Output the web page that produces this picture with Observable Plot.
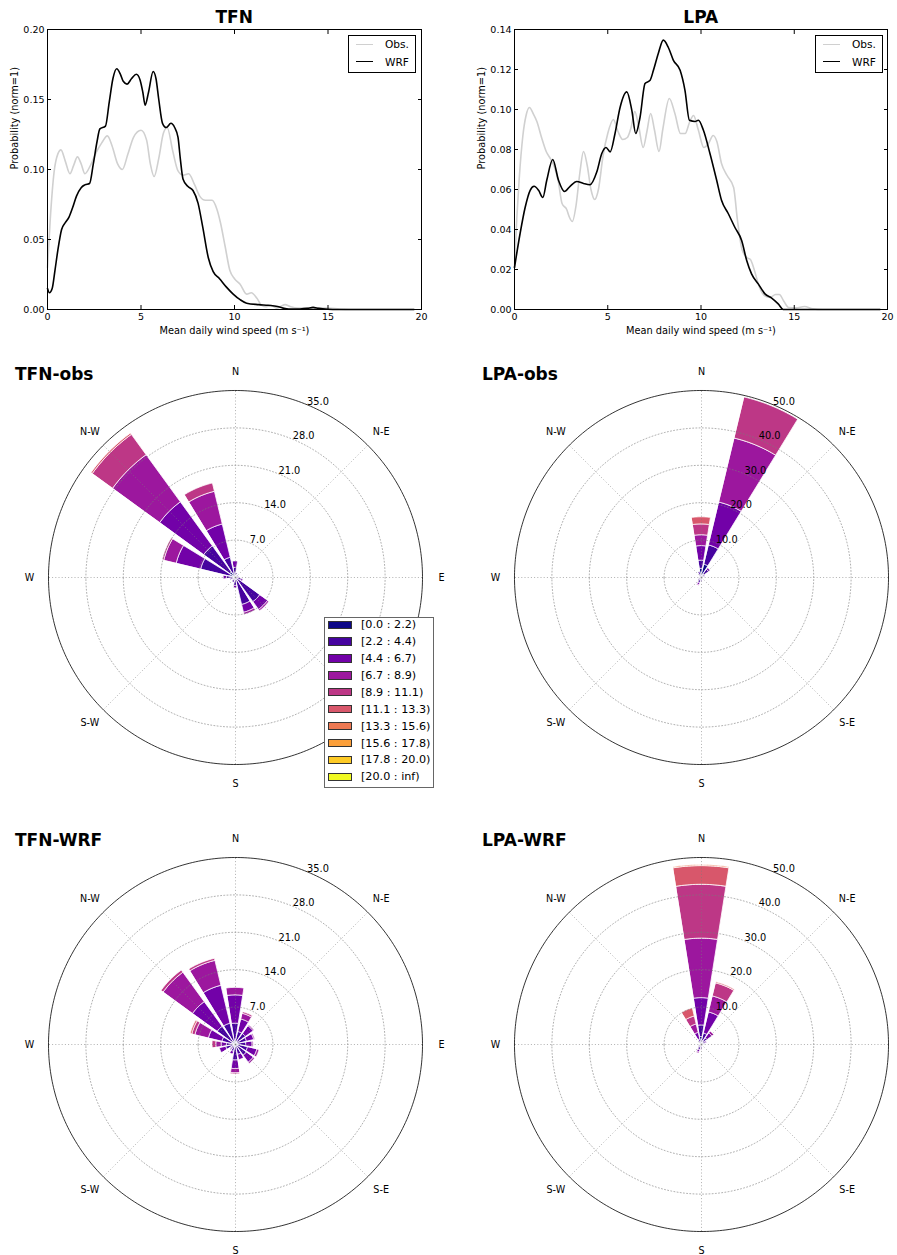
<!DOCTYPE html>
<html>
<head>
<meta charset="utf-8">
<script src="https://cdn.jsdelivr.net/npm/d3@7"></script>
<script src="https://cdn.jsdelivr.net/npm/@observablehq/plot@0.6"></script>
<style>
  body { margin: 0; background: #fff; }
  #root { position: relative; width: 897px; height: 1255px; overflow: hidden; font-family: "DejaVu Sans", sans-serif; color: #000; }
  #root svg { position: absolute; overflow: visible; }
</style>
</head>
<body>
<div id="root"></div>
<script>
// ---------------- DATA ----------------
// Kernel-density curves: [wind speed (m/s), probability]
const tfnObs = [[0,0.030],[0.15,0.065],[0.35,0.098],[0.55,0.111],[0.72,0.114],[0.95,0.106],[1.2,0.097],[1.4,0.103],[1.6,0.109],[1.8,0.104],[2.0,0.097],[2.3,0.103],[2.6,0.112],[2.9,0.119],[3.2,0.124],[3.45,0.117],[3.75,0.104],[4.0,0.100],[4.3,0.111],[4.6,0.123],[5.0,0.128],[5.3,0.121],[5.5,0.104],[5.7,0.095],[5.95,0.108],[6.2,0.126],[6.4,0.130],[6.7,0.113],[6.98,0.099],[7.25,0.096],[7.55,0.097],[7.87,0.089],[8.14,0.081],[8.45,0.078],[8.8,0.078],[9.05,0.072],[9.25,0.062],[9.5,0.045],[9.75,0.028],[10.0,0.022],[10.3,0.018],[10.65,0.011],[10.9,0.012],[11.2,0.008],[11.45,0.003],[11.7,0.002],[11.95,0.003],[12.25,0.001],[12.7,0.0035],[13.0,0.002],[13.4,0.001],[14.2,0.001],[15.0,0.001],[15.6,0.0003],[16.2,0],[19.6,0]];
const tfnWrf = [[0,0.015],[0.1,0.012],[0.25,0.015],[0.4,0.028],[0.55,0.042],[0.75,0.057],[0.95,0.062],[1.15,0.066],[1.35,0.073],[1.55,0.081],[1.8,0.087],[2.0,0.089],[2.25,0.090],[2.45,0.104],[2.65,0.120],[2.8,0.129],[3.1,0.131],[3.3,0.148],[3.5,0.165],[3.7,0.172],[3.9,0.168],[4.05,0.163],[4.25,0.161],[4.5,0.165],[4.75,0.168],[4.95,0.164],[5.1,0.155],[5.22,0.146],[5.4,0.155],[5.65,0.170],[5.8,0.165],[5.95,0.150],[6.15,0.133],[6.35,0.130],[6.6,0.133],[6.8,0.130],[6.98,0.123],[7.1,0.108],[7.25,0.093],[7.5,0.088],[7.78,0.085],[8.05,0.076],[8.3,0.059],[8.6,0.037],[8.86,0.027],[9.2,0.022],[9.57,0.016],[9.93,0.011],[10.3,0.007],[10.65,0.0045],[11.3,0.0035],[11.8,0.003],[12.3,0.0022],[12.6,0.001],[12.9,0.0003],[13.5,0.0004],[13.9,0.0008],[14.2,0.0015],[14.5,0.0008],[15.0,0.0002],[15.5,0],[19.6,0]];
const lpaObs = [[0,0.021],[0.12,0.045],[0.25,0.065],[0.45,0.087],[0.62,0.097],[0.8,0.101],[1.0,0.098],[1.2,0.094],[1.45,0.086],[1.7,0.079],[1.95,0.075],[2.15,0.071],[2.35,0.064],[2.55,0.053],[2.8,0.050],[2.95,0.046],[3.1,0.044],[3.3,0.052],[3.5,0.068],[3.7,0.079],[3.9,0.072],[4.1,0.060],[4.3,0.055],[4.5,0.060],[4.75,0.077],[5.0,0.088],[5.3,0.095],[5.55,0.089],[5.8,0.085],[6.05,0.086],[6.25,0.091],[6.45,0.099],[6.65,0.092],[6.9,0.081],[7.1,0.089],[7.3,0.098],[7.5,0.090],[7.75,0.079],[7.95,0.090],[8.3,0.1055],[8.6,0.098],[8.9,0.088],[9.15,0.088],[9.4,0.094],[9.6,0.097],[9.85,0.090],[10.15,0.081],[10.4,0.083],[10.65,0.087],[10.85,0.084],[11.1,0.073],[11.4,0.067],[11.75,0.061],[11.95,0.045],[12.2,0.030],[12.45,0.026],[12.65,0.025],[12.85,0.020],[13.1,0.012],[13.4,0.007],[13.7,0.006],[14.0,0.0075],[14.2,0.0075],[14.45,0.004],[14.7,0.001],[15.1,0.0008],[15.55,0.0015],[16.0,0.0003],[16.5,0],[19.6,0]];
const lpaWrf = [[0,0.021],[0.3,0.038],[0.57,0.051],[0.84,0.0596],[1.05,0.0616],[1.29,0.0596],[1.52,0.056],[1.73,0.0646],[2.05,0.075],[2.36,0.0646],[2.68,0.059],[2.98,0.0616],[3.34,0.064],[3.7,0.063],[4.05,0.0624],[4.41,0.0687],[4.68,0.078],[4.91,0.081],[5.13,0.0788],[5.39,0.088],[5.66,0.101],[6.02,0.1088],[6.29,0.0996],[6.5,0.088],[6.73,0.096],[7.0,0.113],[7.27,0.1146],[7.45,0.1196],[7.71,0.128],[7.98,0.1347],[8.25,0.131],[8.52,0.1246],[8.88,0.1196],[9.14,0.1096],[9.38,0.0946],[9.68,0.094],[9.86,0.0946],[10.13,0.0896],[10.48,0.078],[10.84,0.0646],[11.1,0.0546],[11.46,0.048],[11.82,0.041],[12.18,0.0345],[12.45,0.0245],[12.71,0.0178],[13.07,0.0128],[13.43,0.0078],[13.79,0.0057],[14.14,0.0028],[14.41,0.0],[19.6,0]];

const speedTicks = [0, 5, 10, 15, 20];
const tfnProbTicks = [0, 0.05, 0.10, 0.15, 0.20];
const lpaProbTicks = [0, 0.02, 0.04, 0.06, 0.08, 0.10, 0.12, 0.14];

// Wind roses
const directions = ["N","NNE","NE","ENE","E","ESE","SE","SSE","S","SSW","SW","WSW","W","WNW","NW","NNW"];
const dirAngles = [0,22.5,45,67.5,90,112.5,135,157.5,180,202.5,225,247.5,270,292.5,315,337.5];
const compassLabels = ["N","N-E","E","S-E","S","S-W","W","N-W"];
const compassAngles = [0,45,90,135,180,225,270,315];
const speedBins = ["[0.0 : 2.2)","[2.2 : 4.4)","[4.4 : 6.7)","[6.7 : 8.9)","[8.9 : 11.1)","[11.1 : 13.3)","[13.3 : 15.6)","[15.6 : 17.8)","[17.8 : 20.0)","[20.0 : inf)"];
const tfnRings = [7, 14, 21, 28, 35];
const lpaRings = [10, 20, 30, 40, 50];

// frequency (%) per direction (rows, N..NNW) and speed bin (columns)
const tfnObsFreq = [
  [0.3,1.5,1.2,0,0,0,0,0,0,0],
  [0.3,0.5,0,0,0,0,0,0,0,0],
  [0.2,0.3,0,0,0,0,0,0,0,0],
  [0.2,0.4,0,0,0,0,0,0,0,0],
  [0.2,0.5,0,0,0,0,0,0,0,0],
  [0.3,0.9,0.3,0,0,0,0,0,0,0],
  [0.5,5.2,1.8,0.3,0,0,0,0,0,0],
  [0.5,4.8,1.5,0.4,0,0,0,0,0,0],
  [0.4,1.2,0.4,0,0,0,0,0,0,0],
  [0.3,0.7,0,0,0,0,0,0,0,0],
  [0.2,0.4,0,0,0,0,0,0,0,0],
  [0.3,0.7,0,0,0,0,0,0,0,0],
  [0.4,1.2,0.6,0,0,0,0,0,0,0],
  [1.0,5.6,4.7,2.4,0.3,0,0,0,0,0],
  [1.2,6.0,10.2,10.9,4.7,0.3,0,0,0,0],
  [0.8,3.0,6.4,6.3,1.6,0,0,0,0,0]
];
const tfnWrfFreq = [
  [0.6,3.3,5.3,1.4,0,0,0,0,0,0],
  [0.5,1.9,2.4,1.1,0.3,0,0,0,0,0],
  [0.4,2.0,1.8,0.2,0,0,0,0,0,0],
  [0.4,1.8,1.4,0.2,0,0,0,0,0,0],
  [0.4,1.6,1.2,0.2,0,0,0,0,0,0],
  [0.4,2.0,1.8,0.4,0,0,0,0,0,0],
  [0.4,2.2,1.6,0.3,0,0,0,0,0,0],
  [0.4,1.6,1.0,0,0,0,0,0,0,0],
  [0.5,2.5,1.6,0.8,0.2,0,0,0,0,0],
  [0.4,1.0,0.5,0,0,0,0,0,0,0],
  [0.3,0.7,0.2,0,0,0,0,0,0,0],
  [0.4,1.4,1.2,0,0,0,0,0,0,0],
  [0.4,1.2,1.0,1.0,0.7,0,0,0,0,0],
  [0.5,2.0,2.6,2.6,0.6,0.3,0,0,0,0],
  [0.6,3.5,5.7,6.8,0.5,0,0,0,0,0],
  [0.6,3.4,7.3,4.8,0.4,0,0,0,0,0]
];
const lpaObsFreq = [
  [2.3,2.2,3.9,2.9,2.9,1.9,0,0,0,0],
  [3.5,5.3,11.8,17.6,11.3,0,0,0,0,0],
  [1.0,1.5,0.5,0,0,0,0,0,0,0],
  [0.4,0.6,0,0,0,0,0,0,0,0],
  [0.3,0.2,0,0,0,0,0,0,0,0],
  [0.2,0.2,0,0,0,0,0,0,0,0],
  [0.2,0.2,0,0,0,0,0,0,0,0],
  [0.3,0.3,0,0,0,0,0,0,0,0],
  [0.5,0.7,0,0,0,0,0,0,0,0],
  [0.6,1.0,0.5,0.2,0,0,0,0,0,0],
  [0.4,0.6,0,0,0,0,0,0,0,0],
  [0.2,0.3,0,0,0,0,0,0,0,0],
  [0.2,0.2,0,0,0,0,0,0,0,0],
  [0.2,0.2,0,0,0,0,0,0,0,0],
  [0.3,0.3,0,0,0,0,0,0,0,0],
  [0.5,1.0,0,0,0,0,0,0,0,0]
];
const lpaWrfFreq = [
  [2.0,3.1,7.3,15.9,14.4,5.0,0.3,0,0,0],
  [1.0,2.0,5.8,4.4,3.6,0.3,0,0,0,0],
  [0.6,1.4,1.6,0.6,0,0,0,0,0,0],
  [0.4,0.8,0.3,0,0,0,0,0,0,0],
  [0.3,0.3,0,0,0,0,0,0,0,0],
  [0.2,0.2,0,0,0,0,0,0,0,0],
  [0.2,0.2,0,0,0,0,0,0,0,0],
  [0.3,0.3,0,0,0,0,0,0,0,0],
  [0.5,0.8,0.2,0,0,0,0,0,0,0],
  [0.6,1.0,0.6,0.3,0,0,0,0,0,0],
  [0.4,0.5,0,0,0,0,0,0,0,0],
  [0.2,0.3,0,0,0,0,0,0,0,0],
  [0.2,0.2,0,0,0,0,0,0,0,0],
  [0.2,0.3,0,0,0,0,0,0,0,0],
  [0.4,0.5,0,0,0,0,0,0,0,0],
  [0.6,0.8,1.8,2.3,2.2,2.2,0,0,0,0]
];

// ---------------- STYLE ----------------
const binColors = d3.quantize(d3.interpolatePlasma, 10);
const FONT = "DejaVu Sans";
const root = document.getElementById("root");

function put(node, left, top) {
  node.style.left = left + "px";
  node.style.top = top + "px";
  root.appendChild(node);
  return node;
}
function textDiv(text, x, cy, size, bold, center) {
  const d = document.createElement("div");
  d.textContent = text;
  d.style.cssText = `position:absolute;white-space:nowrap;font-family:'${FONT}';font-size:${size}px;line-height:${size}px;font-weight:${bold ? "bold" : "normal"};`;
  d.style.top = (cy - size * 0.48) + "px";
  d.style.left = x + "px";
  if (center) d.style.transform = "translateX(-50%)";
  root.appendChild(d);
  return d;
}

// ---------------- DENSITY PLOTS ----------------
function densityPlot(obs, wrf, probTicks, width, marginLeft, marginRight) {
  const toRows = (a) => a.map(([s, p]) => ({s, p}));
  return Plot.plot({
    width, height: 345,
    marginLeft, marginRight, marginTop: 29, marginBottom: 36,
    style: {fontFamily: FONT, fontSize: "9.5px", background: "transparent", color: "black", overflow: "visible"},
    x: {domain: [0, 20]},
    y: {domain: [0, probTicks[probTicks.length - 1]]},
    marks: [
      Plot.line(toRows(obs), {x: "s", y: "p", stroke: "#d0d0d0", strokeWidth: 1.6, curve: "monotone-x"}),
      Plot.line(toRows(wrf), {x: "s", y: "p", stroke: "black", strokeWidth: 1.6, curve: "monotone-x"}),
      Plot.frame({stroke: "black", strokeWidth: 1}),
      Plot.axisX({ticks: speedTicks, tickSize: -4, tickPadding: 7.5, tickFormat: (d) => String(d), label: null}),
      Plot.axisX({anchor: "top", ticks: speedTicks, tickSize: -4, tickFormat: () => "", label: null}),
      Plot.axisY({ticks: probTicks, tickSize: -4, tickPadding: 7, tickFormat: d3.format(".2f"), label: null}),
      Plot.axisY({anchor: "right", ticks: probTicks, tickSize: -4, tickFormat: () => "", label: null}),
      Plot.text(["Mean daily wind speed (m s\u207B\u00B9)"], {frameAnchor: "bottom", dy: 24, text: (d) => d, fontSize: 9.8}),
      Plot.text(["Probability (norm=1)"], {frameAnchor: "left", dx: -33, rotate: -90, text: (d) => d, fontSize: 9.8})
    ]
  });
}

put(densityPlot(tfnObs, tfnWrf, tfnProbTicks, 448, 47, 27), 0, 0);
put(densityPlot(lpaObs, lpaWrf, lpaProbTicks, 449, 66, 10), 448, 0);

// ---------------- WIND ROSES ----------------
const K = 0.01;                       // degrees of colatitude per percent
const lonOf = (a) => 180 - a;         // compass angle -> longitude (clockwise from N)
const latOf = (v) => 90 - v * K;      // frequency -> latitude
const OUTER = 187, HALF_FRAME = 210, LABEL_R = 206;

function rose(freq, rings) {
  const rmax = rings[rings.length - 1];
  const half = 22.5 * 0.8 / 2;
  const pts = [];
  freq.forEach((row, d) => {
    let r0 = 0;
    row.forEach((v, b) => {
      if (!(v > 0)) return;
      const r1 = r0 + v;
      for (let j = 0; j <= 18; j++) {
        const a = dirAngles[d] - half + j * (2 * half / 18);
        pts.push({id: directions[d] + "-" + b, bin: speedBins[b], lon: lonOf(a), lat0: latOf(r0), lat1: latOf(r1)});
      }
      r0 = r1;
    });
  });
  const circle = (r) => d3.geoCircle().center([0, 90]).radius(r * K).precision(1)();
  const grid = {stroke: "#7a7a7a", strokeWidth: 0.6, strokeDasharray: "1,2.2"};
  return Plot.plot({
    width: 2 * HALF_FRAME, height: 2 * HALF_FRAME, margin: 0,
    style: {fontFamily: FONT, fontSize: "9.5px", background: "transparent", color: "black", overflow: "visible"},
    projection: {
      type: "azimuthal-equidistant",
      rotate: [0, -90],
      domain: d3.geoCircle().center([0, 90]).radius(rmax * K * HALF_FRAME / OUTER)()
    },
    color: {domain: speedBins, range: binColors},
    marks: [
      Plot.area(pts, {x1: "lon", y1: "lat0", x2: "lon", y2: "lat1", z: "id", fill: "bin", stroke: "white", strokeWidth: 0.8}),
      Plot.geo(rings.slice(0, -1), {geometry: circle, fill: "none", ...grid}),
      Plot.link(compassAngles, {x1: (a) => lonOf(a), y1: 90, x2: (a) => lonOf(a), y2: latOf(rmax), ...grid}),
      Plot.geo([rmax], {geometry: circle, fill: "none", stroke: "black", strokeWidth: 0.8}),
      Plot.text(compassLabels, {x: (d, i) => lonOf(compassAngles[i]), y: latOf(rmax * LABEL_R / OUTER), text: (d) => d, fontSize: 9.6}),
      Plot.text(rings, {x: lonOf(22.5), y: (r) => latOf(r), text: (r) => r.toFixed(1), textAnchor: "start", lineAnchor: "bottom", fontSize: 9.8})
    ]
  });
}

put(rose(tfnObsFreq, tfnRings), 235 - HALF_FRAME, 577 - HALF_FRAME);
put(rose(lpaObsFreq, lpaRings), 701 - HALF_FRAME, 577 - HALF_FRAME);
put(rose(tfnWrfFreq, tfnRings), 235 - HALF_FRAME, 1044 - HALF_FRAME);
put(rose(lpaWrfFreq, lpaRings), 701 - HALF_FRAME, 1044 - HALF_FRAME);

// ---------------- TITLES ----------------
textDiv("TFN", 234.2, 16.7, 17, true, true);
textDiv("LPA", 700.8, 16.7, 17, true, true);
textDiv("TFN-obs", 15, 374, 17, true, false);
textDiv("LPA-obs", 482, 374, 17, true, false);
textDiv("TFN-WRF", 15, 840, 17, true, false);
textDiv("LPA-WRF", 482, 840, 17, true, false);

// ---------------- LEGENDS ----------------
function lineLegend(left, top) {
  const box = document.createElement("div");
  box.style.cssText = "position:absolute;width:68px;height:38px;border:1px solid #000;box-sizing:border-box;background:#fff;";
  [["Obs.", "#d0d0d0", 9.5], ["WRF", "#000", 27]].forEach(([t, c, cy]) => {
    const ln = document.createElement("div");
    ln.style.cssText = `position:absolute;left:7px;top:${cy - 1.75}px;width:17px;height:0;border-top:1.6px solid ${c};`;
    box.appendChild(ln);
    const tx = document.createElement("div");
    tx.textContent = t;
    tx.style.cssText = `position:absolute;left:36px;top:${cy - 1 - 10.6 * 0.48}px;font-family:'${FONT}';font-size:10.6px;line-height:10.6px;white-space:nowrap;`;
    box.appendChild(tx);
  });
  put(box, left, top);
}
lineLegend(348, 35);
lineLegend(815, 35);

(function binLegend() {
  const box = document.createElement("div");
  box.style.cssText = "position:absolute;width:110px;height:171px;border:1px solid #666;box-sizing:border-box;background:#fff;";
  speedBins.forEach((lab, i) => {
    const cy = 7.7 + i * 16.9;
    const sw = document.createElement("div");
    sw.style.cssText = `position:absolute;left:3px;top:${cy - 4.2 - 1}px;width:24px;height:8.4px;box-sizing:border-box;border:0.8px solid #333;background:${binColors[i]};`;
    box.appendChild(sw);
    const tx = document.createElement("div");
    tx.textContent = lab;
    tx.style.cssText = `position:absolute;left:36px;top:${cy - 1 - 11 * 0.5}px;font-family:'${FONT}';font-size:11.2px;line-height:11px;white-space:nowrap;`;
    box.appendChild(tx);
  });
  put(box, 324, 617);
})();
</script>
</body>
</html>
